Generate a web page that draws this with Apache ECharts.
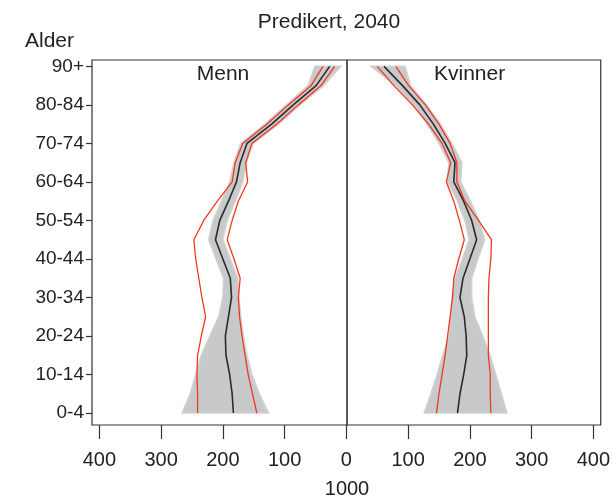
<!DOCTYPE html>
<html>
<head>
<meta charset="utf-8">
<script src="https://cdn.jsdelivr.net/npm/echarts@6/dist/echarts.min.js"></script>
<style>
html,body{margin:0;padding:0;background:#fff;}
#chart{width:613px;height:501px;}
</style>
</head>
<body>
<div id="chart"></div>
<script>
// Age groups, index 0 = "0-4" ... 18 = "90+"
var ageGroups = ["0-4","5-9","10-14","15-19","20-24","25-29","30-34","35-39","40-44","45-49","50-54","55-59","60-64","65-69","70-74","75-79","80-84","85-89","90+"];
var ageTickLabels = ["0-4","10-14","20-24","30-34","40-44","50-54","60-64","70-74","80-84","90+"];
var xTickValues = [-400,-300,-200,-100,0,100,200,300,400];

// Menn (in 1000)
var mennMedian = [183,185,189,195,196,191,186,188,200,212,205,191,178,172,161,121,86,49,27];
var mennGreyLo = [126,141,153,161,167,171,174,176,188,200,193,180,168,162,151,110,75,37,9];
var mennGreyHi = [266,253,244,235,221,207,200,199,211,223,216,202,189,182,171,132,97,62,51];
var mennRedLo  = [145,152,159,164,169,173,175,172,182,193,185,175,160,163,153,113,78,41,19];
var mennRedHi  = [241,241,242,241,235,228,234,239,244,247,231,209,185,180,168,129,94,57,38];

// Kvinner (in 1000)
var kvinnerMedian = [180,184,190,195,194,191,184,189,200,211,203,190,174,176,160,141,119,91,61];
var kvinnerGreyLo = [126,137,147,156,166,169,171,176,188,199,192,180,164,166,150,131,109,80,40];
var kvinnerGreyHi = [260,251,242,233,221,208,203,203,213,224,215,201,185,187,171,152,130,104,95];
var kvinnerRedLo  = [146,150,155,160,164,168,172,174,182,191,183,174,162,169,155,133,107,77,50];
var kvinnerRedHi  = [234,233,233,230,230,230,230,231,234,235,214,192,179,179,168,150,128,101,80];

var FONT = "'Liberation Sans', Arial, sans-serif";
var TXT = '#222';
var RED = '#f4361f';

function linePts(vals, sign){
  return vals.map(function(v,i){ return [sign*v, i]; });
}
function bandSeries(lo, hi, sign){
  return {
    type:'custom',
    z: 1,
    silent:true,
    data:[[0,0]],
    renderItem:function(params, api){
      var pts = [];
      for (var i=0;i<hi.length;i++) pts.push(api.coord([sign*hi[i], i]));
      for (var j=lo.length-1;j>=0;j--) pts.push(api.coord([sign*lo[j], j]));
      return {type:'polygon', shape:{points:pts}, style:{fill:'#c8c9cb', stroke:'#d0d1d3', lineWidth:1.5}};
    }
  };
}
function lineSeries(vals, sign, color, width, z){
  return {type:'line', data:linePts(vals, sign), symbol:'none', silent:true, z:z,
    lineStyle:{color:color, width:width}};
}
function label(text, x, y, size, align){
  return {type:'text', x:x, y:y, z:10, style:{text:text, font:size+'px '+FONT, fill:TXT,
    textAlign:align||'center', textVerticalAlign:'middle'}};
}

var chart = echarts.init(document.getElementById('chart'), null, {renderer:'canvas'});
var option = {
  animation:false,
  backgroundColor:'#fff',
  grid:{left:92, right:11, top:60, bottom:76, show:true, borderColor:'#333', borderWidth:1.2, backgroundColor:'transparent'},
  graphic:[
    label('Predikert, 2040', 329, 22, 21),
    label('Alder', 25, 41, 21, 'left'),
    label('Menn', 223, 74, 21),
    label('Kvinner', 434, 74, 21, 'left'),
    label('1000', 347, 489, 20)
  ],
  xAxis:{
    type:'value', min:-412, max:412,
    axisLine:{show:false, onZero:false},
    splitLine:{show:false},
    axisTick:{show:true, length:14, customValues:xTickValues, lineStyle:{color:'#333', width:1.2}},
    axisLabel:{show:true, customValues:xTickValues, margin:25, fontFamily:FONT, fontSize:20, color:TXT,
      formatter:function(v){ return String(Math.abs(v)); }}
  },
  yAxis:{
    type:'value', min:-0.62, max:18.33,
    axisLine:{show:false, onZero:false},
    splitLine:{show:false},
    axisTick:{show:true, length:6, customValues:[0,2,4,6,8,10,12,14,16,18], lineStyle:{color:'#333', width:1.2}},
    axisLabel:{show:true, customValues:[0,2,4,6,8,10,12,14,16,18], margin:8, fontFamily:FONT, fontSize:19, color:TXT,
      formatter:function(v){ return ageTickLabels[Math.round(v/2)]; }}
  },
  series:[
    bandSeries(mennGreyLo, mennGreyHi, -1),
    bandSeries(kvinnerGreyLo, kvinnerGreyHi, 1),
    lineSeries(mennMedian, -1, '#2b2b2b', 1.6, 3),
    lineSeries(kvinnerMedian, 1, '#2b2b2b', 1.6, 3),
    lineSeries(mennRedLo, -1, RED, 1.3, 4),
    lineSeries(mennRedHi, -1, RED, 1.3, 4),
    lineSeries(kvinnerRedLo, 1, RED, 1.3, 4),
    lineSeries(kvinnerRedHi, 1, RED, 1.3, 4),
    {type:'line', data:[], z:5, markLine:{silent:true, symbol:'none', label:{show:false},
      lineStyle:{color:'#222', width:1.5, type:'solid'}, data:[{xAxis:0}]}}
  ]
};
chart.setOption(option);
</script>
</body>
</html>
